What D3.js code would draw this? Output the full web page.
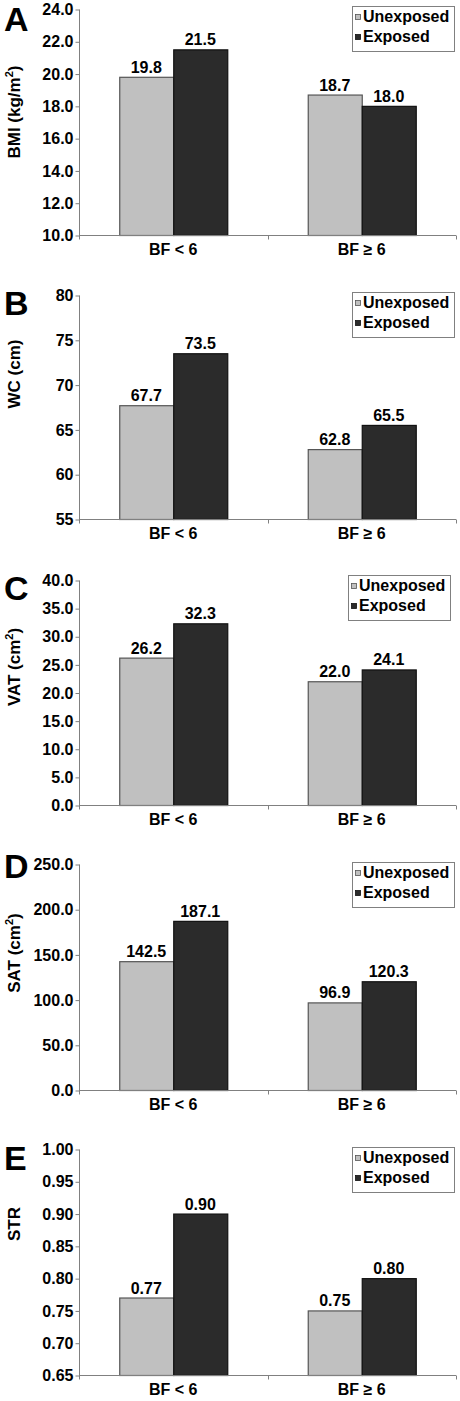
<!DOCTYPE html>
<html>
<head>
<meta charset="utf-8">
<script src="https://cdn.jsdelivr.net/npm/d3@7"></script>
<style>
  html, body { margin: 0; padding: 0; background: #fff; }
  svg { display: block; }
  text { font-family: Arial, "Liberation Sans", Helvetica, sans-serif; font-weight: bold; fill: #000; }
</style>
</head>
<body>
<svg id="chart" width="460" height="1401"></svg>
<script>
// ---- data ----
const categories = ["BF < 6", "BF \u2265 6"];
const seriesNames = ["Unexposed", "Exposed"];

const bmiUnexposed = [19.8, 18.7];
const bmiExposed   = [21.5, 18.0];
const wcUnexposed  = [67.7, 62.8];
const wcExposed    = [73.5, 65.5];
const vatUnexposed = [26.2, 22.0];
const vatExposed   = [32.3, 24.1];
const satUnexposed = [142.5, 96.9];
const satExposed   = [187.1, 120.3];
const strUnexposed = [0.77, 0.75];
const strExposed   = [0.90, 0.80];

const bmiTicks = [10, 12, 14, 16, 18, 20, 22, 24];
const wcTicks  = [55, 60, 65, 70, 75, 80];
const vatTicks = [0, 5, 10, 15, 20, 25, 30, 35, 40];
const satTicks = [0, 50, 100, 150, 200, 250];
const strTicks = [0.65, 0.70, 0.75, 0.80, 0.85, 0.90, 0.95, 1.00];

const panelLetters = ["A", "B", "C", "D", "E"];
const axisTitles = [
  ["BMI (kg/m", "2", ")"],
  ["WC (cm)", "", ""],
  ["VAT (cm", "2", ")"],
  ["SAT (cm", "2", ")"],
  ["STR", "", ""]
];
const tickFormats  = [".1f", "d", ".1f", ".1f", ".2f"];
const valueFormats = [".1f", ".1f", ".1f", ".1f", ".2f"];

const panels = [
  { u: bmiUnexposed, e: bmiExposed, ticks: bmiTicks },
  { u: wcUnexposed,  e: wcExposed,  ticks: wcTicks },
  { u: vatUnexposed, e: vatExposed, ticks: vatTicks },
  { u: satUnexposed, e: satExposed, ticks: satTicks },
  { u: strUnexposed, e: strExposed, ticks: strTicks }
];

// ---- layout (positions, not data) ----
const layout = [
  { top: 9,    bottom: 235,  titleY: 112,  letterY: 31,   legX: 352, legY: 6 },
  { top: 295,  bottom: 519,  titleY: 374,  letterY: 315,  legX: 352, legY: 292 },
  { top: 580,  bottom: 805,  titleY: 667,  letterY: 600,  legX: 348, legY: 575 },
  { top: 864,  bottom: 1090, titleY: 953,  letterY: 878,  legX: 352, legY: 862 },
  { top: 1149, bottom: 1375, titleY: 1224, letterY: 1170, legX: 352, legY: 1147 }
];
const plotLeft = 79, plotRight = 456;
const colors = { Unexposed: "#c0c0c0", Exposed: "#2b2b2b" };
const strokes = { Unexposed: "#555555", Exposed: "#111111" };

const svg = d3.select("#chart");

panels.forEach((p, i) => {
  const L = layout[i];
  const g = svg.append("g");

  const x = d3.scaleBand().domain(categories).range([plotLeft, plotRight]).padding(0);
  const bw = x.bandwidth();
  const xInner = d3.scaleBand().domain(seriesNames).range([bw * 0.2135, bw * 0.7865]).padding(0);
  const ticks = p.ticks;
  const y = d3.scaleLinear().domain([ticks[0], ticks[ticks.length - 1]]).range([L.bottom, L.top]);

  // bars
  const rows = categories.map((c, k) => ({ cat: c, vals: [
    { s: "Unexposed", v: p.u[k] }, { s: "Exposed", v: p.e[k] }
  ]}));
  const cg = g.selectAll(".cat").data(rows).enter().append("g")
    .attr("transform", d => `translate(${x(d.cat)},0)`);
  cg.selectAll("rect").data(d => d.vals).enter().append("rect")
    .attr("x", d => xInner(d.s) + 0.5)
    .attr("y", d => y(d.v) + 0.5)
    .attr("width", xInner.bandwidth())
    .attr("height", d => y(ticks[0]) - y(d.v))
    .attr("fill", d => colors[d.s])
    .attr("stroke", d => strokes[d.s])
    .attr("stroke-width", 1.2);
  const vf = d3.format(valueFormats[i]);
  cg.selectAll("text.val").data(d => d.vals).enter().append("text")
    .attr("class", "val")
    .attr("x", d => xInner(d.s) + xInner.bandwidth() / 2)
    .attr("y", d => y(d.v) - 4)
    .attr("text-anchor", "middle")
    .attr("font-size", 16)
    .text(d => vf(d.v));

  // y axis
  const yAxis = d3.axisLeft(y).tickValues(ticks).tickFormat(d3.format(tickFormats[i]))
    .tickSize(4).tickPadding(2);
  const ya = g.append("g").attr("transform", `translate(${plotLeft + 0.5},0.5)`).call(yAxis);
  ya.select(".domain").attr("stroke", "#808080").attr("d", `M0,${L.top}V${L.bottom}`);
  ya.selectAll(".tick line").attr("stroke", "#808080");
  ya.selectAll(".tick text").attr("font-size", 16).attr("fill", "#000")
    .attr("font-family", "Arial, 'Liberation Sans', sans-serif").attr("font-weight", "bold");

  // x axis
  const xa = g.append("g").attr("transform", `translate(0,${L.bottom + 0.5})`);
  xa.append("line").attr("x1", plotLeft).attr("x2", plotRight).attr("y1", 0).attr("y2", 0)
    .attr("stroke", "#808080");
  const bounds = [plotLeft, x(categories[1]), plotRight];
  xa.selectAll("line.tk").data(bounds).enter().append("line").attr("class", "tk")
    .attr("x1", d => Math.round(d) + 0.5).attr("x2", d => Math.round(d) + 0.5)
    .attr("y1", 0).attr("y2", 4).attr("stroke", "#808080");
  xa.selectAll("text").data(categories).enter().append("text")
    .attr("x", d => x(d) + bw / 2)
    .attr("y", 19)
    .attr("text-anchor", "middle")
    .attr("font-size", 16)
    .text(d => d);

  // axis title
  const t = axisTitles[i];
  const tt = g.append("text")
    .attr("transform", `translate(20,${L.titleY}) rotate(-90)`)
    .attr("text-anchor", "middle")
    .attr("font-size", 17);
  tt.append("tspan").text(t[0]);
  if (t[1]) {
    tt.append("tspan").attr("font-size", 11).attr("dy", -7).text(t[1]);
    tt.append("tspan").attr("dy", 7).text(t[2]);
  }

  // panel letter
  g.append("text").attr("x", 4).attr("y", L.letterY)
    .attr("font-size", 34).text(panelLetters[i]);

  // legend
  const lg = g.append("g").attr("transform", `translate(${L.legX},${L.legY})`);
  lg.append("rect").attr("x", 0.5).attr("y", 0.5).attr("width", 102).attr("height", 45)
    .attr("fill", "#fff").attr("stroke", "#808080");
  seriesNames.forEach((s, k) => {
    lg.append("rect").attr("x", 3.5).attr("y", 8.5 + k * 20).attr("width", 5).attr("height", 5)
      .attr("fill", colors[s]).attr("stroke", strokes[s]).attr("stroke-width", 0.8);
    lg.append("text").attr("x", 11).attr("y", 16 + k * 20)
      .attr("font-size", 16).text(s);
  });
});
</script>
</body>
</html>
